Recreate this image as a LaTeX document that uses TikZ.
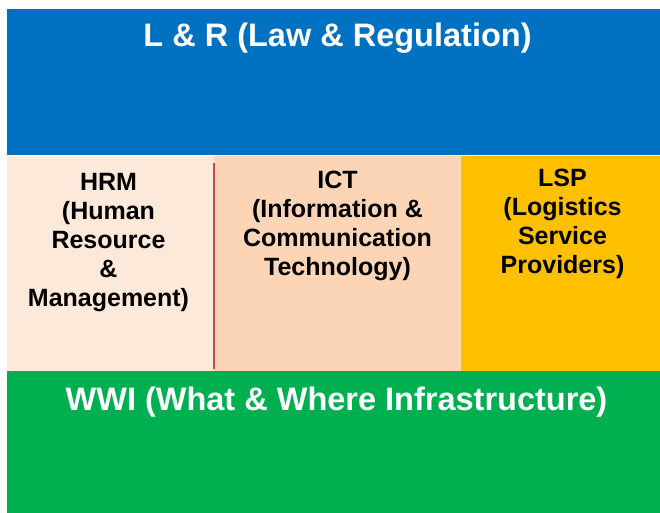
\documentclass[tikz,border=0pt]{standalone}
\usepackage{fontspec}
\setmainfont{Liberation Sans}
\usetikzlibrary{positioning}
\definecolor{lrblue}{HTML}{0070C0}
\definecolor{hrmpeach}{HTML}{FDE9D9}
\definecolor{ictpeach}{HTML}{FBD5B5}
\definecolor{lspamber}{HTML}{FFC000}
\definecolor{wwigreen}{HTML}{00B050}
\definecolor{dividerred}{RGB}{205,70,80}

\begin{document}
\begin{tikzpicture}[x=1pt,y=1pt]
      \tikzstyle{band}=[rectangle, inner sep=0pt, outer sep=0pt, anchor=north west]
      \tikzstyle{pillar}=[band, minimum height=215pt]
      \tikzstyle{title}=[text=white, inner sep=0pt, anchor=base, font=\bfseries\fontsize{32.5}{38}\selectfont]
      \tikzstyle{pillartext}=[text=black, inner sep=0pt, anchor=base, align=center, font=\bfseries\fontsize{25}{29}\selectfont]
      \tikzstyle{divider}=[draw=dividerred, line width=1.5pt]

      \useasboundingbox (0,0) rectangle (660,-513);

      \node[band, fill=lrblue, minimum width=653pt, minimum height=146pt] (lr) at (7,-9) {};
      \node[pillar, fill=hrmpeach, minimum width=207pt] (hrm) at (7,-156) {};
      \node[pillar, fill=ictpeach, minimum width=247pt, right=0pt of hrm] (ict) {};
      \node[pillar, fill=lspamber, minimum width=199pt, right=0pt of ict] (lsp) {};
      \node[band, fill=wwigreen, minimum width=653pt, minimum height=142pt] (wwi) at (hrm.south west) {};

      \draw[divider] ([yshift=-7pt]hrm.north east) -- ([yshift=2pt]hrm.south east);

      % base = last line of each block
      \node[title] (lrtext) at ([xshift=4pt, yshift=-38pt]lr.north) {L \& R (Law \& Regulation)};
      \node[pillartext] (hrmtext) at ([xshift=-2pt, yshift=-150pt]hrm.north) {HRM\\(Human\\Resource\\\&\\Management)};
      \node[pillartext] (icttext) at ([yshift=-119pt]ict.north) {ICT\\(Information \&\\Communication\\Technology)};
      \node[pillartext] (lsptext) at ([xshift=2pt, yshift=-117pt]lsp.north) {LSP\\(Logistics\\Service\\Providers)};
      \node[title] (wwitext) at ([xshift=3pt, yshift=-39pt]wwi.north) {WWI (What \& Where Infrastructure)};
    \end{tikzpicture}
\end{document}
